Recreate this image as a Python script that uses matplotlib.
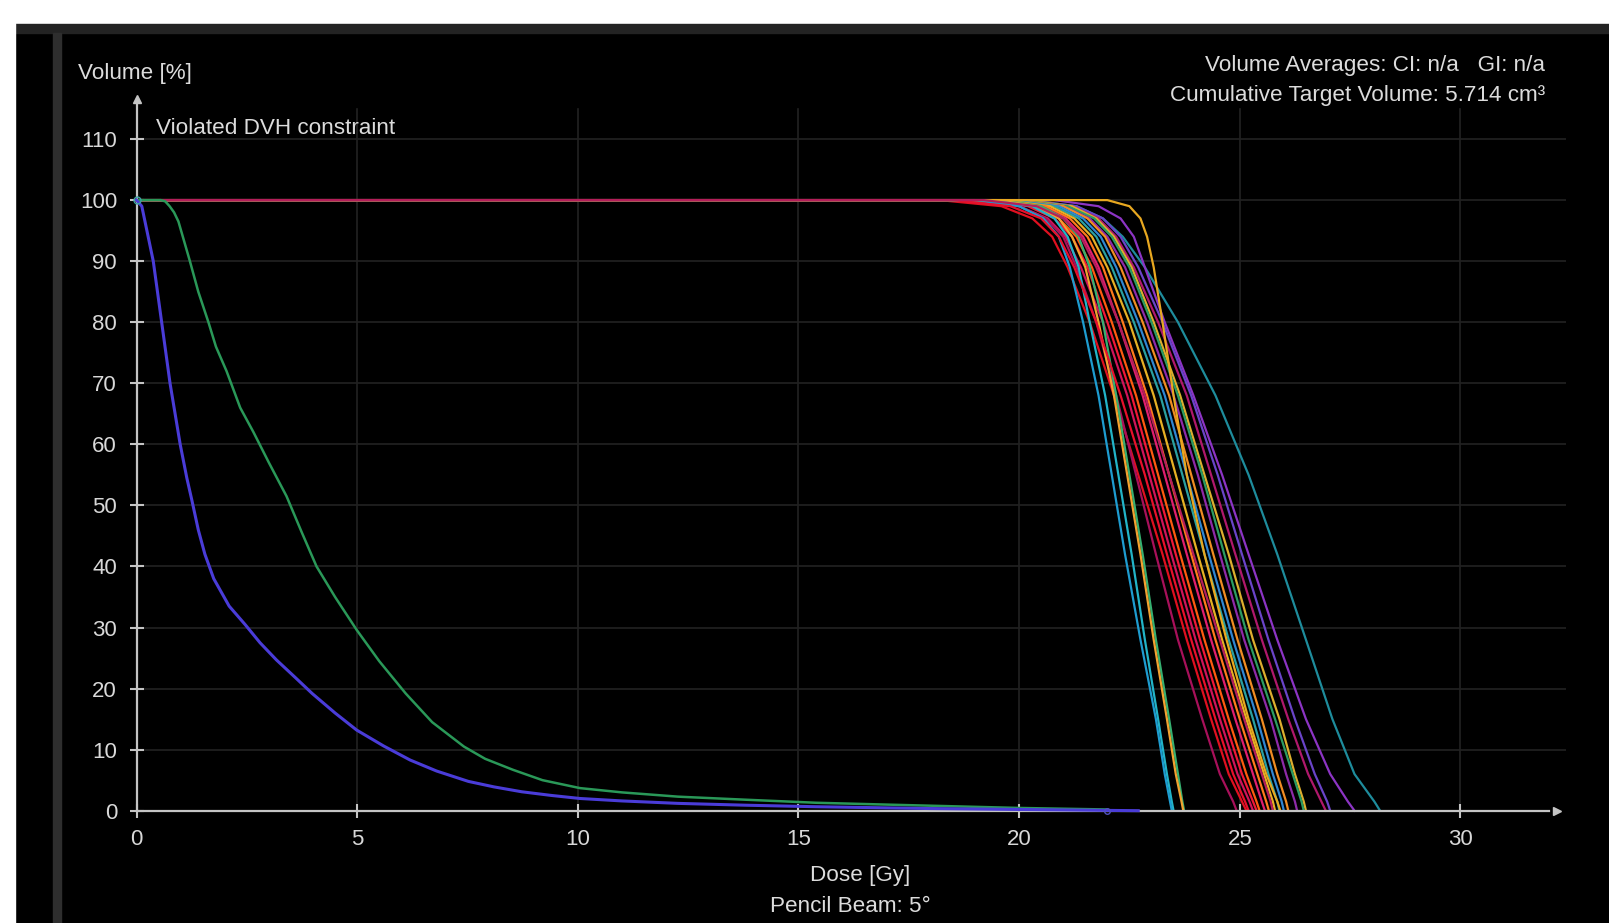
import matplotlib
matplotlib.use("Agg")
import matplotlib.pyplot as plt
from matplotlib.patches import Rectangle

plt.rcParams['font.family'] = ['Liberation Sans', 'DejaVu Sans']

W, H = 1609, 923

# ---------------- data ----------------
# every target curve sits at 100 % from 0 Gy until it leaves the plateau
plateau_dose = 0.0
# Volume levels (%) at which the dose of each target curve was read
target_levels = [100, 99, 97, 94, 89, 80, 68, 55, 42, 28, 15, 6, 1.5, 0]

# dose [Gy] at each volume level, one list per target DVH curve
tgt_cyan_a    = [19.0, 20.0, 20.55, 20.9, 21.15, 21.45, 21.8, 22.1, 22.4, 22.75, 23.1, 23.3, 23.42, 23.46]
tgt_cyan_b    = [19.3, 20.3, 20.8, 21.1, 21.35, 21.6, 21.95, 22.25, 22.55, 22.85, 23.15, 23.35, 23.46, 23.5]
tgt_yellow_a  = [19.5, 20.4, 20.9, 21.2, 21.5, 21.8, 22.15, 22.45, 22.75, 23.05, 23.35, 23.55, 23.68, 23.72]
tgt_green_a   = [19.6, 20.5, 21.0, 21.35, 21.6, 21.9, 22.2, 22.5, 22.8, 23.1, 23.4, 23.6, 23.7, 23.74]
tgt_magenta_a = [18.8, 20.0, 20.6, 21.0, 21.3, 21.75, 22.2, 22.65, 23.1, 23.6, 24.15, 24.55, 24.85, 24.93]
tgt_red_a     = [18.2, 19.6, 20.3, 20.75, 21.1, 21.6, 22.15, 22.7, 23.25, 23.8, 24.35, 24.75, 25.05, 25.15]
tgt_red_c     = [18.5, 19.8, 20.5, 20.9, 21.25, 21.75, 22.3, 22.85, 23.35, 23.9, 24.45, 24.85, 25.12, 25.2]
tgt_crimson   = [18.7, 20.0, 20.65, 21.05, 21.4, 21.9, 22.45, 22.95, 23.45, 24.0, 24.55, 24.95, 25.22, 25.3]
tgt_red_b     = [19.0, 20.2, 20.8, 21.2, 21.55, 22.0, 22.55, 23.05, 23.55, 24.1, 24.65, 25.05, 25.3, 25.38]
tgt_orange_a  = [19.2, 20.3, 20.9, 21.3, 21.65, 22.1, 22.65, 23.15, 23.65, 24.2, 24.75, 25.15, 25.38, 25.45]
tgt_pink      = [19.3, 20.5, 21.05, 21.45, 21.8, 22.25, 22.8, 23.3, 23.8, 24.35, 24.9, 25.3, 25.5, 25.57]
tgt_orange_b  = [19.5, 20.6, 21.15, 21.55, 21.9, 22.35, 22.9, 23.4, 23.9, 24.45, 25.0, 25.4, 25.6, 25.66]
tgt_yellow_b  = [19.6, 20.7, 21.25, 21.65, 22.0, 22.5, 23.05, 23.55, 24.05, 24.6, 25.15, 25.55, 25.75, 25.8]
tgt_teal_b    = [19.7, 20.8, 21.35, 21.75, 22.1, 22.6, 23.2, 23.7, 24.2, 24.75, 25.3, 25.65, 25.85, 25.9]
tgt_blue      = [19.8, 20.9, 21.45, 21.85, 22.2, 22.7, 23.3, 23.8, 24.3, 24.85, 25.4, 25.75, 25.95, 26.0]
tgt_gold      = [22.0, 22.5, 22.75, 22.9, 23.05, 23.25, 23.5, 23.8, 24.2, 24.7, 25.2, 25.6, 25.85, 25.92]
tgt_orange_c  = [19.9, 21.0, 21.55, 21.95, 22.3, 22.8, 23.4, 23.9, 24.4, 24.95, 25.5, 25.85, 26.05, 26.1]
tgt_purple_b  = [19.8, 21.0, 21.6, 22.0, 22.4, 22.9, 23.5, 24.05, 24.55, 25.1, 25.7, 26.05, 26.25, 26.3]
tgt_green_b   = [20.0, 21.1, 21.7, 22.1, 22.5, 23.0, 23.6, 24.15, 24.65, 25.2, 25.8, 26.2, 26.4, 26.45]
tgt_yellow_c  = [20.1, 21.2, 21.75, 22.15, 22.55, 23.05, 23.65, 24.2, 24.75, 25.3, 25.9, 26.25, 26.45, 26.5]
tgt_magenta_b = [20.0, 21.2, 21.8, 22.2, 22.6, 23.15, 23.8, 24.35, 24.9, 25.5, 26.1, 26.55, 26.85, 26.95]
tgt_violet    = [20.2, 21.3, 21.9, 22.3, 22.7, 23.25, 23.9, 24.5, 25.05, 25.65, 26.25, 26.7, 26.98, 27.05]
tgt_purple_a  = [20.8, 21.8, 22.3, 22.6, 22.85, 23.3, 23.95, 24.6, 25.2, 25.85, 26.5, 27.05, 27.45, 27.6]
tgt_teal_a    = [20.2, 21.3, 21.9, 22.35, 22.85, 23.6, 24.45, 25.2, 25.85, 26.5, 27.1, 27.6, 28.05, 28.18]
tgt_magenta_c = [19.2, 20.4, 21.0, 21.4, 21.75, 22.25, 22.85, 23.4, 23.95, 24.55, 25.1, 25.5, 25.7, 25.75]

target_curves = [
    (tgt_teal_a, '#1e8c9c'), (tgt_purple_a, '#8c34c4'), (tgt_violet, '#6a44c8'),
    (tgt_magenta_b, '#b0186c'), (tgt_yellow_c, '#dcae2e'), (tgt_green_b, '#2c9c62'),
    (tgt_purple_b, '#8e2aa8'), (tgt_orange_c, '#f08c22'), (tgt_blue, '#2f86d2'),
    (tgt_teal_b, '#2aa0a0'), (tgt_yellow_b, '#e6b024'), (tgt_orange_b, '#ff7a1c'),
    (tgt_pink, '#e01e6e'), (tgt_orange_a, '#ff5a10'), (tgt_red_b, '#f01838'),
    (tgt_crimson, '#d0145a'), (tgt_red_a, '#e01020'), (tgt_magenta_a, '#a8105a'),
    (tgt_green_a, '#36b070'), (tgt_yellow_a, '#f2a230'), (tgt_cyan_b, '#22b4c8'),
    (tgt_cyan_a, '#1e9cd0'), (tgt_gold, '#e8a820'), (tgt_red_c, '#e8102c'),
    (tgt_magenta_c, '#b41e5a'),
]

# organ-at-risk curves (dose [Gy], volume [%])
blue_dose = [0, 0.12, 0.38, 0.57, 0.76, 0.99, 1.14, 1.25, 1.4, 1.55, 1.75, 2.1, 2.46, 2.8,
             3.17, 3.6, 3.98, 4.5, 4.99, 5.6, 6.2, 6.8, 7.52, 8.1, 8.73, 9.4, 10.05, 11.0,
             12.27, 13.8, 15.4, 18.0, 20.0, 22.7]
blue_vol = [100, 99, 90, 80, 70, 60, 54.5, 51, 46, 42, 38, 33.5, 30.5, 27.5,
            24.7, 21.8, 19.2, 16.0, 13.2, 10.6, 8.3, 6.5, 4.8, 3.9, 3.1, 2.5, 2.0, 1.6,
            1.2, 0.9, 0.65, 0.35, 0.2, 0]
green_dose = [0, 0.55, 0.65, 0.75, 0.85, 0.95, 1.05, 1.21, 1.4, 1.63, 1.8, 2.04, 2.35,
              2.65, 3.0, 3.4, 3.75, 4.08, 4.5, 4.99, 5.5, 6.1, 6.7, 7.42, 7.9, 8.53,
              9.2, 10.05, 11.0, 12.27, 13.8, 15.4, 17.0, 20.0, 22.0]
green_vol = [100, 100, 99.8, 99, 98, 96.5, 94, 90, 85, 80, 76, 72, 66,
             62, 57, 51.5, 45.5, 40, 35, 29.6, 24.5, 19.2, 14.5, 10.5, 8.5, 6.7,
             5.0, 3.7, 3.0, 2.3, 1.8, 1.3, 1.0, 0.45, 0.2]

x_ticks = [0, 5, 10, 15, 20, 25, 30]
y_ticks = [0, 10, 20, 30, 40, 50, 60, 70, 80, 90, 100, 110]

# ---------------- figure ----------------
fig = plt.figure(figsize=(W / 100, H / 100), dpi=100, facecolor='black')

def fig_rect(x0, y0, x1, y1, color):
    fig.patches.append(Rectangle((x0 / W, 1 - y1 / H), (x1 - x0) / W, (y1 - y0) / H,
                                 transform=fig.transFigure, color=color, zorder=-10))

fig_rect(0, 0, W, 24, 'white')
fig_rect(15, 24, W, 33, '#232323')
fig_rect(0, 0, 15, H, 'white')
fig_rect(53, 33, 61, H, '#2e2e2e')

px_per_gy = 44.13
px_per_pct = 6.106
x0_px, y0_px = 136.5, 810.7
xmin, xmax = -0.4, 32.4
ymin, ymax = -1.2, 117.5
left = (x0_px + xmin * px_per_gy) / W
right = (x0_px + xmax * px_per_gy) / W
bottom = (H - (y0_px - ymin * px_per_pct)) / H
top = (H - (y0_px - ymax * px_per_pct)) / H
ax = fig.add_axes([left, bottom, right - left, top - bottom])
ax.set_facecolor('black')
ax.set_xlim(xmin, xmax)
ax.set_ylim(ymin, ymax)

grid_c = '#222222'
for xt in x_ticks[1:]:
    ax.plot([xt, xt], [0, 115], color=grid_c, lw=1.2, zorder=0)
for yt in y_ticks[1:]:
    ax.plot([0, 32.4], [yt, yt], color=grid_c, lw=1.2, zorder=0)

axis_c = '#c4c4c4'
for s in ['top', 'right']:
    ax.spines[s].set_visible(False)
ax.spines['left'].set_position(('data', 0))
ax.spines['bottom'].set_position(('data', 0))
ax.spines['left'].set_bounds(0, 116.5)
ax.spines['bottom'].set_bounds(0, 32.0)
for s in ['left', 'bottom']:
    ax.spines[s].set_color(axis_c)
    ax.spines[s].set_linewidth(1.6)
ax.plot([0], [116.6], marker='^', color=axis_c, ms=6, clip_on=False, zorder=5)
ax.plot([32.2], [0], marker='>', color=axis_c, ms=6, clip_on=False, zorder=5)

ax.set_xticks(x_ticks)
ax.set_yticks(y_ticks)
ax.set_xticklabels([str(v) for v in x_ticks])
ax.set_yticklabels([str(v) for v in y_ticks])
ax.tick_params(axis='both', direction='inout', length=10, width=1.5, color=axis_c,
               labelcolor='#d8d8d8', labelsize=16)
ax.tick_params(axis='x', pad=8)
ax.tick_params(axis='y', pad=9)

for dose, col in target_curves:
    ax.plot([plateau_dose] + dose, [100] + target_levels, color=col, lw=1.6, zorder=2,
            solid_joinstyle='round')
ax.plot(green_dose, green_vol, color='#2a9858', lw=1.8, zorder=3)
ax.plot(blue_dose, blue_vol, color='#4a3cd8', lw=2.2, zorder=4)
ax.plot([blue_dose[0]], [blue_vol[0]], marker='o', ms=5, mfc='none', mec='#3aa0a0', zorder=5)
ax.plot([22.0], [0], marker='o', ms=4, mfc='none', mec='#5050c0', zorder=5, clip_on=False)

txt_c = '#dcdcdc'
def ftext(x, y, s, ha='left', size=16.2):
    fig.text(x / W, 1 - y / H, s, ha=ha, va='center', color=txt_c, fontsize=size)

ftext(78, 73, 'Volume [%]')
ftext(156, 128, 'Violated DVH constraint')
ftext(1545, 66, 'Volume Averages: CI: n/a   GI: n/a', ha='right')
ftext(1545, 95, 'Cumulative Target Volume: 5.714 cm³', ha='right')
ftext(860, 876, 'Dose [Gy]', ha='center')
ftext(850, 907, 'Pencil Beam: 5°', ha='center')

fig.savefig('out.png', dpi=100, facecolor=fig.get_facecolor())
